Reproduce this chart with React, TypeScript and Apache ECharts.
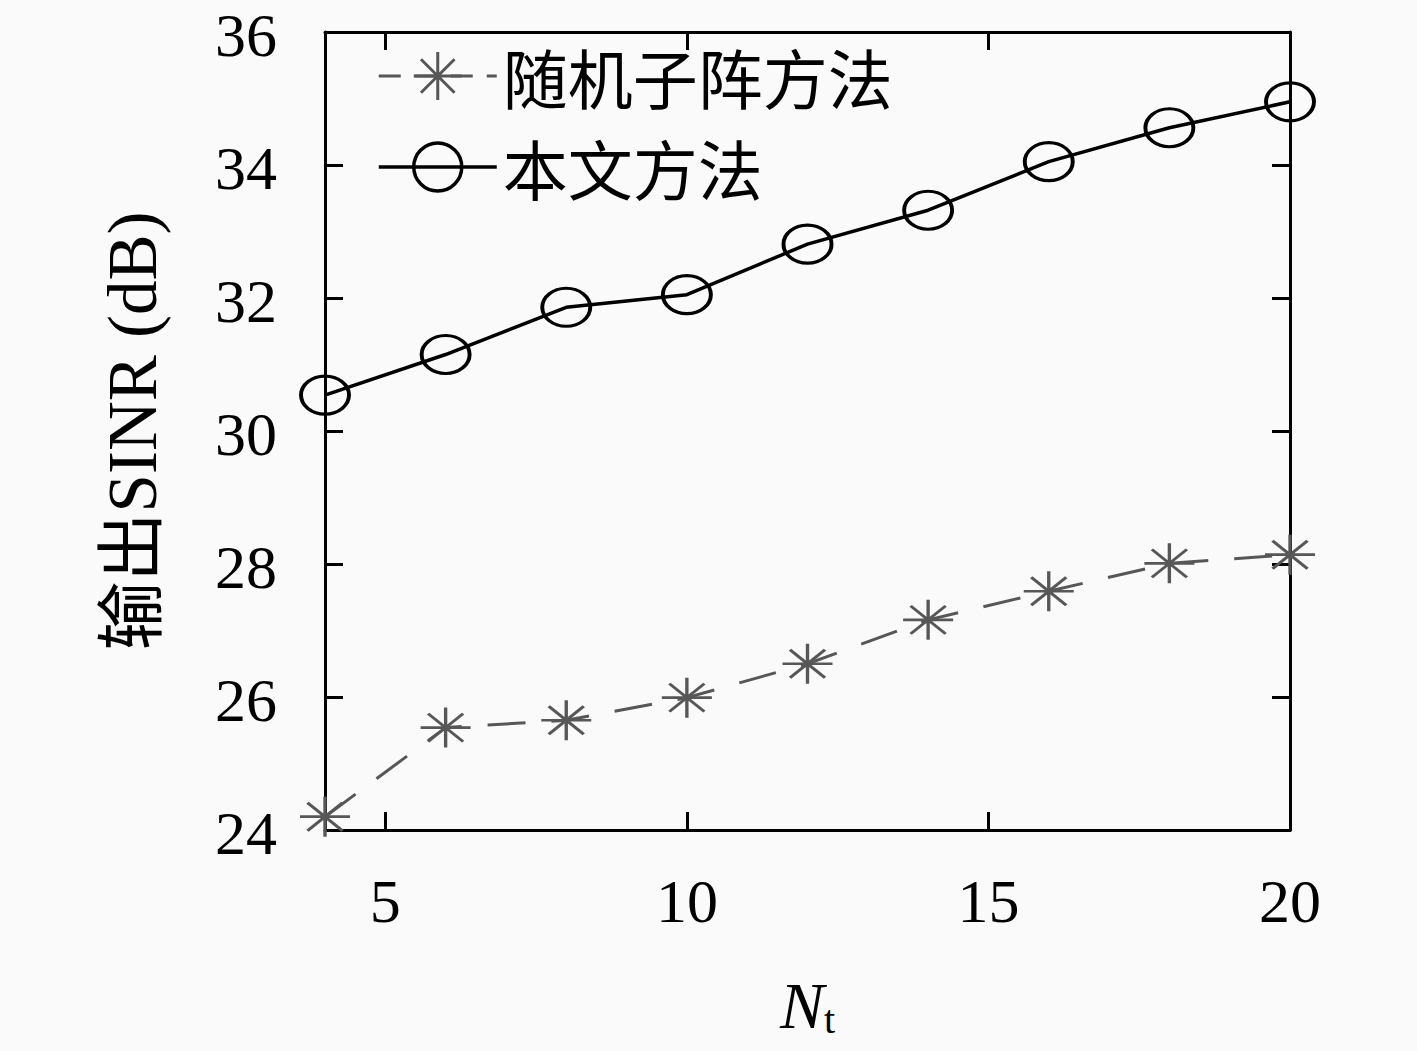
import React, { useEffect, useRef } from "react";
import * as echarts from "echarts";

const nt = [4, 6, 8, 10, 12, 14, 16, 18, 20];
const randomSubarray = [24.2, 25.54, 25.65, 25.99, 26.5, 27.16, 27.59, 28.01, 28.14];
const proposed = [30.54, 31.15, 31.86, 32.05, 32.81, 33.32, 34.05, 34.56, 34.95];
const xTicks = [5, 10, 15, 20];
const seriesNames = ["随机子阵方法", "本文方法"];

const SERIF = "'Liberation Serif', 'Noto Sans CJK SC', serif";
const STAR = "path://M0,-10L0,10M-10,0L10,0M-7,-7L7,7M-7,7L7,-7";
const ELLIPSE = "path://M-10,0A10,10 0 1,1 10,0A10,10 0 1,1 -10,0Z";
const GRAY = "#575757";
const DASH = [38, 26];

export default function App() {
  const ref = useRef<HTMLDivElement>(null);
  useEffect(() => {
    if (!ref.current) return;
    const chart = echarts.init(ref.current, undefined, { renderer: "svg" });
    const axisLine = { show: true, lineStyle: { color: "#000", width: 3 } };
    const tick = { show: true, inside: true, length: 18, lineStyle: { color: "#000", width: 3 } };
    chart.setOption({
      animation: false,
      backgroundColor: "#fafafa",
      grid: { left: 325, top: 32, width: 965, height: 798, containLabel: false },
      legend: {
        orient: "vertical",
        left: 372,
        top: 38,
        itemWidth: 118,
        itemHeight: 60,
        itemGap: 25,
        data: [
          {
            name: seriesNames[0],
            lineStyle: { color: GRAY, width: 3, type: [22, 14] },
            itemStyle: { color: GRAY, borderColor: GRAY, borderWidth: 3 },
          },
          {
            name: seriesNames[1],
            lineStyle: { color: "#000", width: 3.5, type: "solid" },
            itemStyle: { color: "rgba(0,0,0,0)", borderColor: "#000", borderWidth: 3.5 },
          },
        ],
        textStyle: {
          fontFamily: "'Noto Sans CJK SC', sans-serif",
          fontSize: 65,
          lineHeight: 66,
          color: "#000",
          padding: [0, 0, 0, 1],
        },
      },
      xAxis: [
        {
          type: "value",
          min: 4,
          max: 20,
          position: "bottom",
          axisLine,
          axisTick: { ...tick, customValues: xTicks },
          axisLabel: {
            customValues: xTicks,
            margin: 46,
            fontSize: 62,
            lineHeight: 50,
            fontFamily: SERIF,
            color: "#000",
          },
          splitLine: { show: false },
          name: "{n|N}{s|t}",
          nameLocation: "middle",
          nameGap: 140,
          nameTextStyle: {
            rich: {
              n: { fontFamily: SERIF, fontStyle: "italic", fontSize: 66, color: "#000" },
              s: { fontFamily: SERIF, fontSize: 40, color: "#000", padding: [30, 0, 0, 0] },
            },
          },
        },
        {
          type: "value",
          min: 4,
          max: 20,
          position: "top",
          axisLine,
          axisTick: { ...tick, customValues: xTicks },
          axisLabel: { show: false },
          splitLine: { show: false },
        },
      ],
      yAxis: [
        {
          type: "value",
          min: 24,
          max: 36,
          interval: 2,
          position: "left",
          axisLine,
          axisTick: tick,
          axisLabel: {
            margin: 48,
            fontSize: 62,
            lineHeight: 50,
            verticalAlign: "top",
            padding: [-22, 0, 0, 0],
            fontFamily: SERIF,
            color: "#000",
          },
          splitLine: { show: false },
          name: "输出SINR (dB)",
          nameLocation: "middle",
          nameRotate: 90,
          nameGap: 158,
          nameTextStyle: { fontFamily: SERIF, fontSize: 69, color: "#000" },
        },
        {
          type: "value",
          min: 24,
          max: 36,
          interval: 2,
          position: "right",
          axisLine,
          axisTick: tick,
          axisLabel: { show: false },
          splitLine: { show: false },
        },
      ],
      series: [
        {
          name: seriesNames[0],
          type: "line",
          data: nt.map((x, i) => [x, randomSubarray[i]]),
          symbol: STAR,
          symbolSize: [50, 40],
          symbolKeepAspect: false,
          lineStyle: { color: GRAY, width: 3, type: DASH },
          itemStyle: { color: GRAY, borderColor: GRAY, borderWidth: 3 },
          z: 3,
        },
        {
          name: seriesNames[1],
          type: "line",
          data: nt.map((x, i) => [x, proposed[i]]),
          symbol: ELLIPSE,
          symbolSize: [48, 38],
          symbolKeepAspect: false,
          lineStyle: { color: "#000", width: 3.5 },
          itemStyle: { color: "rgba(0,0,0,0)", borderColor: "#000", borderWidth: 3.5 },
          z: 4,
        },
      ],
    });
    return () => chart.dispose();
  }, []);
  return (
    <div
      ref={ref}
      style={{ position: "fixed", left: 0, top: 0, width: 1417, height: 1051 }}
    />
  );
}
